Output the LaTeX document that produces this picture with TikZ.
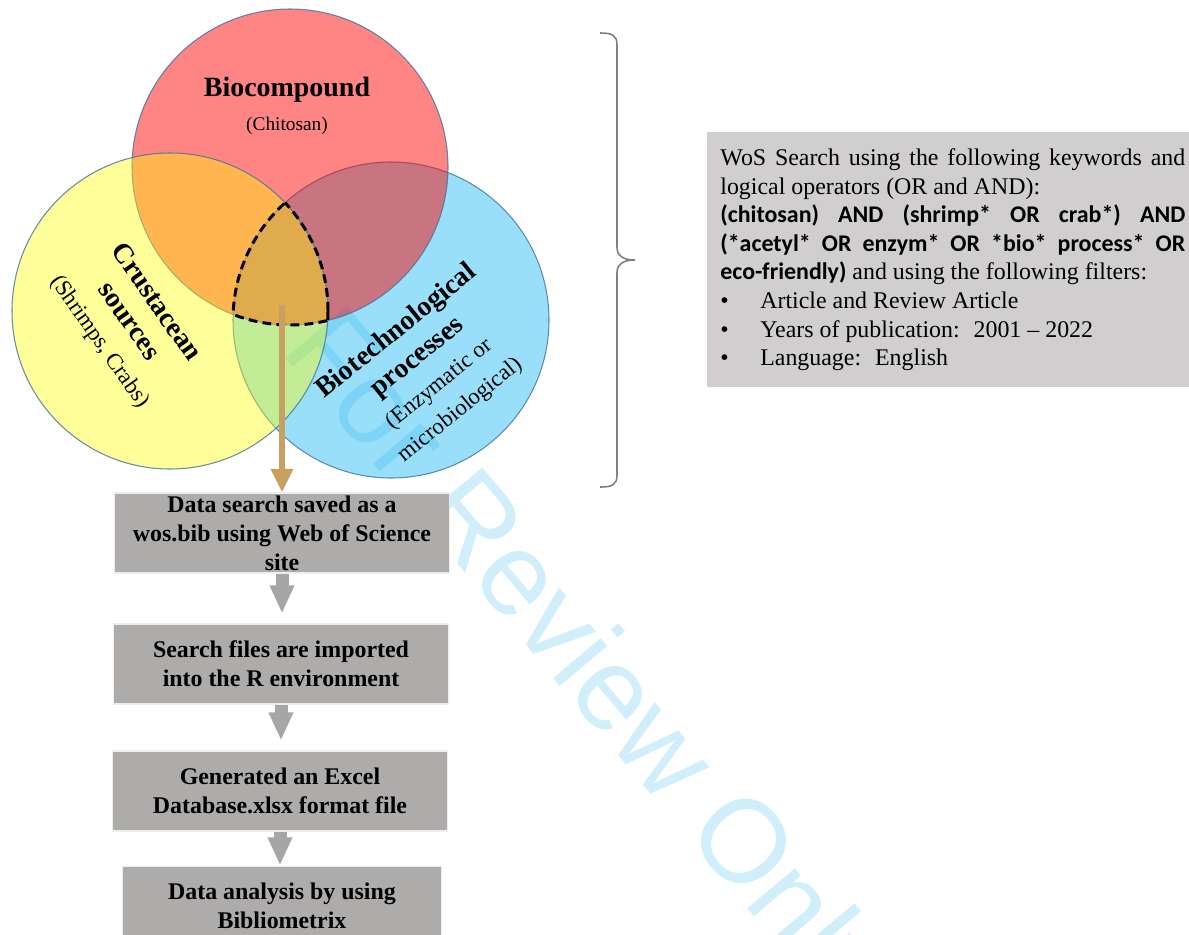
\documentclass[tikz,border=0pt]{standalone}
\usepackage{fontspec}
\setmainfont{Liberation Serif}
\newfontfamily\calibri{Carlito}
\newfontfamily\stampfont{Liberation Sans}
\usetikzlibrary{arrows.meta}

\definecolor{vennred}{RGB}{255,0,0}
\definecolor{vennyellow}{RGB}{255,255,0}
\definecolor{vennblue}{RGB}{0,176,240}
\definecolor{venndraw}{RGB}{65,113,156}
\definecolor{boxgrey}{RGB}{174,171,171}
\definecolor{arrowgrey}{RGB}{166,166,166}
\definecolor{infogrey}{RGB}{208,206,206}
\definecolor{goldbrown}{RGB}{200,160,96}
\definecolor{bracegrey}{RGB}{128,128,128}
\definecolor{stampblue}{RGB}{208,239,251}

\newcommand{\labelbold}{\fontsize{15.9pt}{19pt}\selectfont\bfseries}
\newcommand{\labelreg}{\fontsize{13pt}{16pt}\selectfont\mdseries}
\newcommand{\flowfont}{\fontsize{13.6pt}{16.4pt}\selectfont\bfseries}
\newcommand{\infofont}{\fontsize{13.6pt}{16.3pt}\selectfont}
\newcommand{\keyw}[1]{{\calibri\bfseries #1}}
\newcommand{\bul}{\par\makebox[0.8cm][l]{\textbullet}}

\tikzset{
  venn/.style={draw=venndraw, line width=0.6pt, fill opacity=0.4, draw opacity=0.8},
  core/.style={line width=1.7pt, dash pattern=on 5pt off 3pt},
  labeltext/.style={align=center, font=\labelbold, inner sep=0pt},
  flowbox/.style={fill=boxgrey, draw=white!80!boxgrey, line width=0.6pt,
    minimum width=6.7cm, minimum height=1.6cm, inner ysep=0pt, align=center, font=\flowfont},
  flowarrow/.style={draw=arrowgrey, line width=7.4pt, -{Triangle[width=13pt,length=16pt]}},
  goldarrow/.style={draw=goldbrown, line width=3.4pt, -{Triangle[width=12pt,length=13.5pt]}},
  infobox/.style={fill=infogrey, anchor=north west, text width=9.3cm, inner xsep=0.26cm,
    minimum width=9.64cm, minimum height=5.1cm, align=justify, font=\infofont}
}

\begin{document}
\begin{tikzpicture}[x=0.02cm, y=-0.02cm]
    \useasboundingbox (0,0) rectangle (1189,934);

    \node[rotate=-50, anchor=base west, text=stampblue,
        font=\stampfont\fontsize{67pt}{67pt}\selectfont] (stamp) at (276,347) {For Review Only};

    % the three sets
    \draw[venn, fill=vennblue] (391,320) circle [radius=158];
    \draw[venn, fill=vennred, fill opacity=0.48] (290,167) circle [radius=158];
    \draw[venn, fill=vennyellow] (170,311) circle [radius=158];

    % dashed outline of the common part
    \begin{scope}
        \clip (170,311) circle [radius=158];
        \clip (391,320) circle [radius=158];
        \draw[core] (290,167) circle [radius=158];
    \end{scope}
    \begin{scope}
        \clip (290,167) circle [radius=158];
        \clip (391,320) circle [radius=158];
        \draw[core] (170,311) circle [radius=158];
    \end{scope}
    \begin{scope}
        \clip (290,167) circle [radius=158];
        \clip (170,311) circle [radius=158];
        \draw[core] (391,320) circle [radius=158];
    \end{scope}

    \node[labeltext] (bio) at (287,106) {Biocompound\\{\fontsize{11pt}{14pt}\selectfont\mdseries (Chitosan)}};
    \node[labeltext, rotate=-55] (crust) at (128,322) {Crustacean\\sources\\{\labelreg (Shrimps, Crabs)}};
    \node[labeltext, rotate=39] (biotech) at (428,370) {Biotechnological\\processes\\{\labelreg (Enzymatic or}\\{\labelreg microbiological)}};

    % flow of the work
    \node[flowbox] (wos) at (282,533) {Data search saved as a\\wos.bib using Web of Science\\site};
    \node[flowbox] (rimport) at (281,664) {Search files are imported\\into the R environment};
    \node[flowbox] (excel) at (280,791) {Generated an Excel\\Database.xlsx format file};
    \node[flowbox, minimum width=6.38cm] (biblio) at (282,906) {Data analysis by using\\Bibliometrix};

    \coordinate (drop) at (282,305);
    \draw[goldarrow] (drop) -- (wos.north);
    \draw[flowarrow, shorten >=5.7pt] (wos.south) -- (wos.south |- rimport.north);
    \draw[flowarrow, shorten >=5.7pt] (rimport.south) -- (rimport.south |- excel.north);
    \draw[flowarrow] (excel.south) -- (excel.south |- biblio.north);

    % search terms
    \draw[bracegrey, line width=0.9pt] (600,33) .. controls (612,33) and (617,35) .. (617,45)
        -- (617,247) .. controls (617,255) and (622,260) .. (635,260)
        .. controls (622,260) and (617,265) .. (617,273)
        -- (617,475) .. controls (617,485) and (612,487) .. (600,487);
    \node[infobox] (search) at (707,132) {WoS Search using the following keywords and\linebreak
        logical operators (OR and AND):\par
        \keyw{(chitosan) AND (shrimp* OR crab*) AND\linebreak
        (*acetyl* OR enzym* OR *bio* process* OR\linebreak
        eco-friendly)} and using the following filters:
        \bul Article and Review Article
        \bul Years of publication: \ 2001 -- 2022
        \bul Language: \ English};
\end{tikzpicture}
\end{document}
